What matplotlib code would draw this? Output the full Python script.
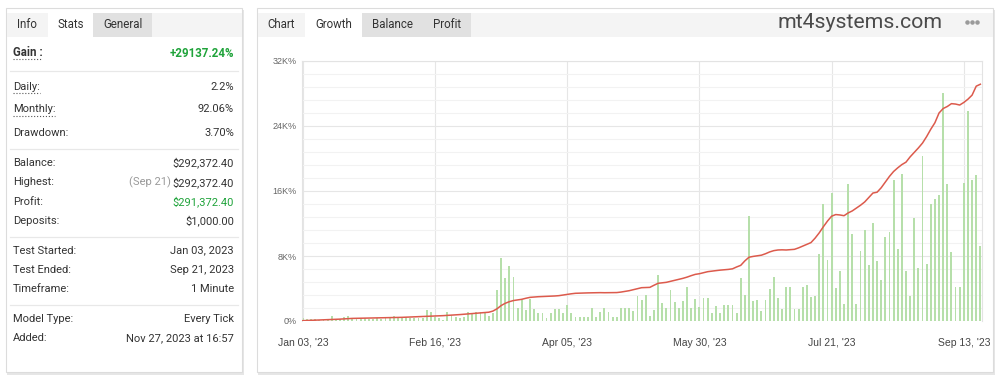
#!/usr/bin/env python3

"""Strategy test card: stats panel on the left, growth chart on the right."""

import matplotlib.pyplot as plt
import numpy as np
from matplotlib.patches import Rectangle

plt.rcParams["font.family"] = ["Roboto", "DejaVu Sans"]

# ---- data ----------------------------------------------------------------

tick_idx = [0, 32, 64, 96, 128, 160]
tick_labels = ["Jan 03, '23", "Feb 16, '23", "Apr 05, '23",
               "May 30, '23", "Jul 21, '23", "Sep 13, '23"]

# per-day gain bars (K%)
bar_values = [
    0.33, 0.21, 0.29, 0.21, 0.12, 0.12, 0.21, 0.66, 0.21, 0.21,
    0.53, 0.66, 0.33, 0.33, 0.33, 0.33, 0.21, 0.21, 0.33, 0.21,
    0.33, 0.33, 0.62, 0.41, 0.33, 0.53, 0.41, 0.33, 0.33, 0.33,
    1.35, 1.15, 0.53, 0.33, 0.12, 1.15, 0.74, 0.53, 0.33, 0.53,
    1.07, 0.94, 1.07, 1.07, 1.15, 0.66, 0.94,
    3.82, 7.71, 5.25, 6.77, 5.37, 1.64, 2.58, 1.35, 2.67, 1.44,
    0.94, 0.94, 0.33, 0.94, 1.44, 1.44, 0.94, 1.97, 0.94, 0.53,
    0.53, 0.53, 0.53, 1.64, 0.53, 1.15, 1.64, 1.07, 0.53, 0.53,
    1.64, 1.64, 1.64, 1.23, 3.12, 2.58, 3.20, 0.62, 1.35, 5.66,
    2.17, 1.56, 3.82, 2.38, 1.56, 2.50, 4.14, 1.64, 2.67, 1.76,
    2.79, 2.79, 0.94, 1.85, 0.94, 1.97, 1.97,
    1.97, 0.94, 5.25, 3.20, 12.92, 2.50, 2.58, 1.23, 2.58, 3.90,
    5.37, 2.79, 1.48, 4.14, 4.23, 1.48, 1.48, 4.23, 4.47, 2.99,
    3.08, 8.21, 14.36, 7.51, 15.80, 4.02, 6.19, 2.09, 16.82, 10.71,
    2.09, 8.66, 11.20, 6.89, 12.06, 7.43, 5.05, 10.38, 10.91, 17.35,
    8.86, 18.05, 6.19, 3.08, 12.72, 6.52, 20.31, 6.97, 14.40, 14.97,
    15.55, 28.10, 16.82, 8.45, 4.23, 4.23, 16.94, 25.85, 17.35, 17.97,
    9.23,
]

# cumulative growth line (K%)
growth = [
    0.04, 0.06, 0.08, 0.10, 0.12, 0.14, 0.16, 0.18, 0.20, 0.23, 0.26, 0.29, 0.32,
    0.33, 0.34, 0.35, 0.36, 0.37, 0.38, 0.38, 0.39, 0.40, 0.41,
    0.43, 0.45, 0.47, 0.49, 0.51, 0.53, 0.55, 0.57, 0.59, 0.62,
    0.64, 0.66, 0.69, 0.72, 0.75,
    0.79, 0.83, 0.87, 0.90, 0.94, 0.98, 1.02, 1.08,
    1.22, 1.50, 1.90, 2.18, 2.38, 2.52, 2.60, 2.67, 2.80, 2.91,
    2.95, 2.99, 3.01, 3.03, 3.05, 3.08, 3.12, 3.20, 3.28, 3.35,
    3.41, 3.43, 3.44, 3.46, 3.47, 3.49, 3.49, 3.48, 3.49, 3.50,
    3.50, 3.56, 3.64, 3.73, 3.85, 3.97, 4.10, 4.12, 4.14, 4.40,
    4.64, 4.70, 4.76, 4.88, 5.00, 5.12, 5.25, 5.40, 5.58, 5.74,
    5.82, 5.95, 6.07, 6.14, 6.20, 6.26, 6.30, 6.35, 6.42, 6.65,
    6.85, 7.40, 7.85, 7.95, 8.02, 8.10, 8.28, 8.50, 8.66, 8.74,
    8.76, 8.74, 8.78, 8.82, 9.00, 9.22, 9.45, 9.65, 10.20, 10.85,
    11.60, 12.30, 12.90, 13.10, 13.05, 12.96, 13.30, 13.55, 13.90, 14.25,
    14.65, 15.20, 15.75, 15.85, 16.40, 17.10, 17.80, 18.40, 18.85, 19.25,
    19.55, 20.20, 20.75, 21.30, 21.90, 22.70, 23.60, 24.40, 25.60, 26.15,
    26.40, 26.75, 26.70, 26.58, 26.90, 27.30, 27.80, 28.90, 29.14,
]

y_ticks = [0, 8, 16, 24, 32]
y_labels = ["0%", "8K%", "16K%", "24K%", "32K%"]

# left panel rows: (label, value)
GREEN = "#1fa33a"
rows_a = [("Daily:", "2.2%"), ("Monthly:", "92.06%"), ("Drawdown:", "3.70%")]
rows_b = [("Balance:", "$292,372.40"), ("Highest:", "$292,372.40"),
          ("Profit:", "$291,372.40"), ("Deposits:", "$1,000.00")]
rows_c = [("Test Started:", "Jan 03, 2023"), ("Test Ended:", "Sep 21, 2023"),
          ("Timeframe:", "1 Minute")]
rows_d = [("Model Type:", "Every Tick"), ("Added:", "Nov 27, 2023 at 16:57")]

# ---- figure ----------------------------------------------------------------

W, H = 1000, 382
fig = plt.figure(figsize=(W / 100, H / 100), dpi=100)
bg = fig.add_axes([0, 0, 1, 1])
bg.set_xlim(0, W)
bg.set_ylim(H, 0)
bg.axis("off")

TXT = "#333333"


def box(x0, y0, x1, y1, fc, ec="none", lw=0.8, z=1):
    bg.add_patch(Rectangle((x0, y0), x1 - x0, y1 - y0, facecolor=fc,
                           edgecolor=ec, linewidth=lw, zorder=z))


def panel(x0, y0, x1, y1):
    box(x0 + 1, y0 + 2, x1 + 2, y1 + 3, "#e6e6e6", z=0)
    box(x0, y0, x1, y1, "white", ec="#dcdcdc", z=1)


def tab(x0, x1, label, fc):
    box(x0, 13, x1, 37, fc, z=2)
    bg.text((x0 + x1) / 2, 25, label, ha="center", va="center",
            fontsize=8.3, color=TXT, zorder=3)


# left panel
panel(6, 8, 242, 372)
box(6.5, 13, 241.5, 37, "#f4f4f4", z=2)
tab(6.5, 48, "Info", "#f4f4f4")
tab(48, 93, "Stats", "white")
tab(93, 152, "General", "#e1e1e1")

LX, RX = 13, 234
bg.text(LX, 52, "Gain :", ha="left", va="center", fontsize=8.3,
        fontweight="bold", color=TXT, zorder=3)
bg.plot([LX, 42], [59, 59], ls=":", lw=0.8, color="#555555", zorder=3)
bg.text(RX, 53.5, "+29137.24%", ha="right", va="center", fontsize=8.3,
        fontweight="bold", color=GREEN, zorder=3)

underline_end = {"Daily:": 40, "Monthly:": 55}


def rows(items, y0, step):
    for k, (lab, val) in enumerate(items):
        y = y0 + k * step
        bg.text(LX, y, lab, ha="left", va="center", fontsize=8, color=TXT, zorder=3)
        col = GREEN if lab == "Profit:" else TXT
        bg.text(RX, y, val, ha="right", va="center", fontsize=8, color=col, zorder=3)
        if lab in underline_end:
            bg.plot([LX, underline_end[lab]], [y + 6.5, y + 6.5], ls=":", lw=0.8,
                    color="#555555", zorder=3)
        if lab == "Highest:":
            bg.text(171, y, "(Sep 21)", ha="right", va="center", fontsize=8,
                    color="#999999", zorder=3)


rows(rows_a, 86.5, 23)
rows(rows_b, 163, 19.3)
rows(rows_c, 250.5, 19.3)
rows(rows_d, 319, 19)

for y in (71, 149, 237, 305):
    bg.plot([10, 238], [y, y], color="#e8e8e8", lw=0.9, zorder=3)

# right panel
panel(257, 8, 993, 372)
box(257.5, 13, 992.5, 37, "#f4f4f4", z=2)
tab(257.5, 305, "Chart", "#f4f4f4")
tab(305, 362, "Growth", "white")
tab(362, 423, "Balance", "#e1e1e1")
tab(423, 471, "Profit", "#e1e1e1")
bg.text(860, 23, "mt4systems.com", ha="center", va="center", fontsize=15.3,
        color="#4a4a4a", zorder=3)
bg.scatter([967, 972, 977], [22, 22, 22], s=5, color="#9a9a9a", zorder=3)

# growth chart
ax = fig.add_axes([302 / W, 1 - 321 / H, 680 / W, 260 / H], zorder=2)
x = np.arange(len(bar_values))
ax.bar(x, bar_values, width=0.45, color="#b6dfaa", zorder=2)
ax.plot(np.arange(len(growth)), growth, color="#dc5a4c", lw=1.1, zorder=3)

ax.set_xlim(-0.2, 164.4)
ax.set_ylim(0, 32)
ax.set_yticks(y_ticks)
ax.set_yticklabels(y_labels)
ax.set_yticks(np.arange(0, 32.1, 1.6), minor=True)
ax.set_xticks(tick_idx)
ax.set_xticklabels(tick_labels)
ax.grid(which="major", color="#e6e6e6", lw=0.8, zorder=0)
ax.grid(which="minor", axis="y", color="#f2f2f2", lw=0.8, zorder=0)
ax.tick_params(which="both", length=0)
ax.tick_params(axis="y", labelsize=6.5, labelcolor="#666666", pad=4)
ax.tick_params(axis="x", labelsize=7.5, labelcolor="#444444", pad=12)
for lab in ax.get_xticklabels() + ax.get_yticklabels():
    lab.set_family(["Liberation Sans", "DejaVu Sans"])
for side in ("top", "right", "left"):
    ax.spines[side].set_color("#e3e3e3")
    ax.spines[side].set_linewidth(0.8)
ax.spines["bottom"].set_visible(False)

fig.savefig("out.png", dpi=100)
